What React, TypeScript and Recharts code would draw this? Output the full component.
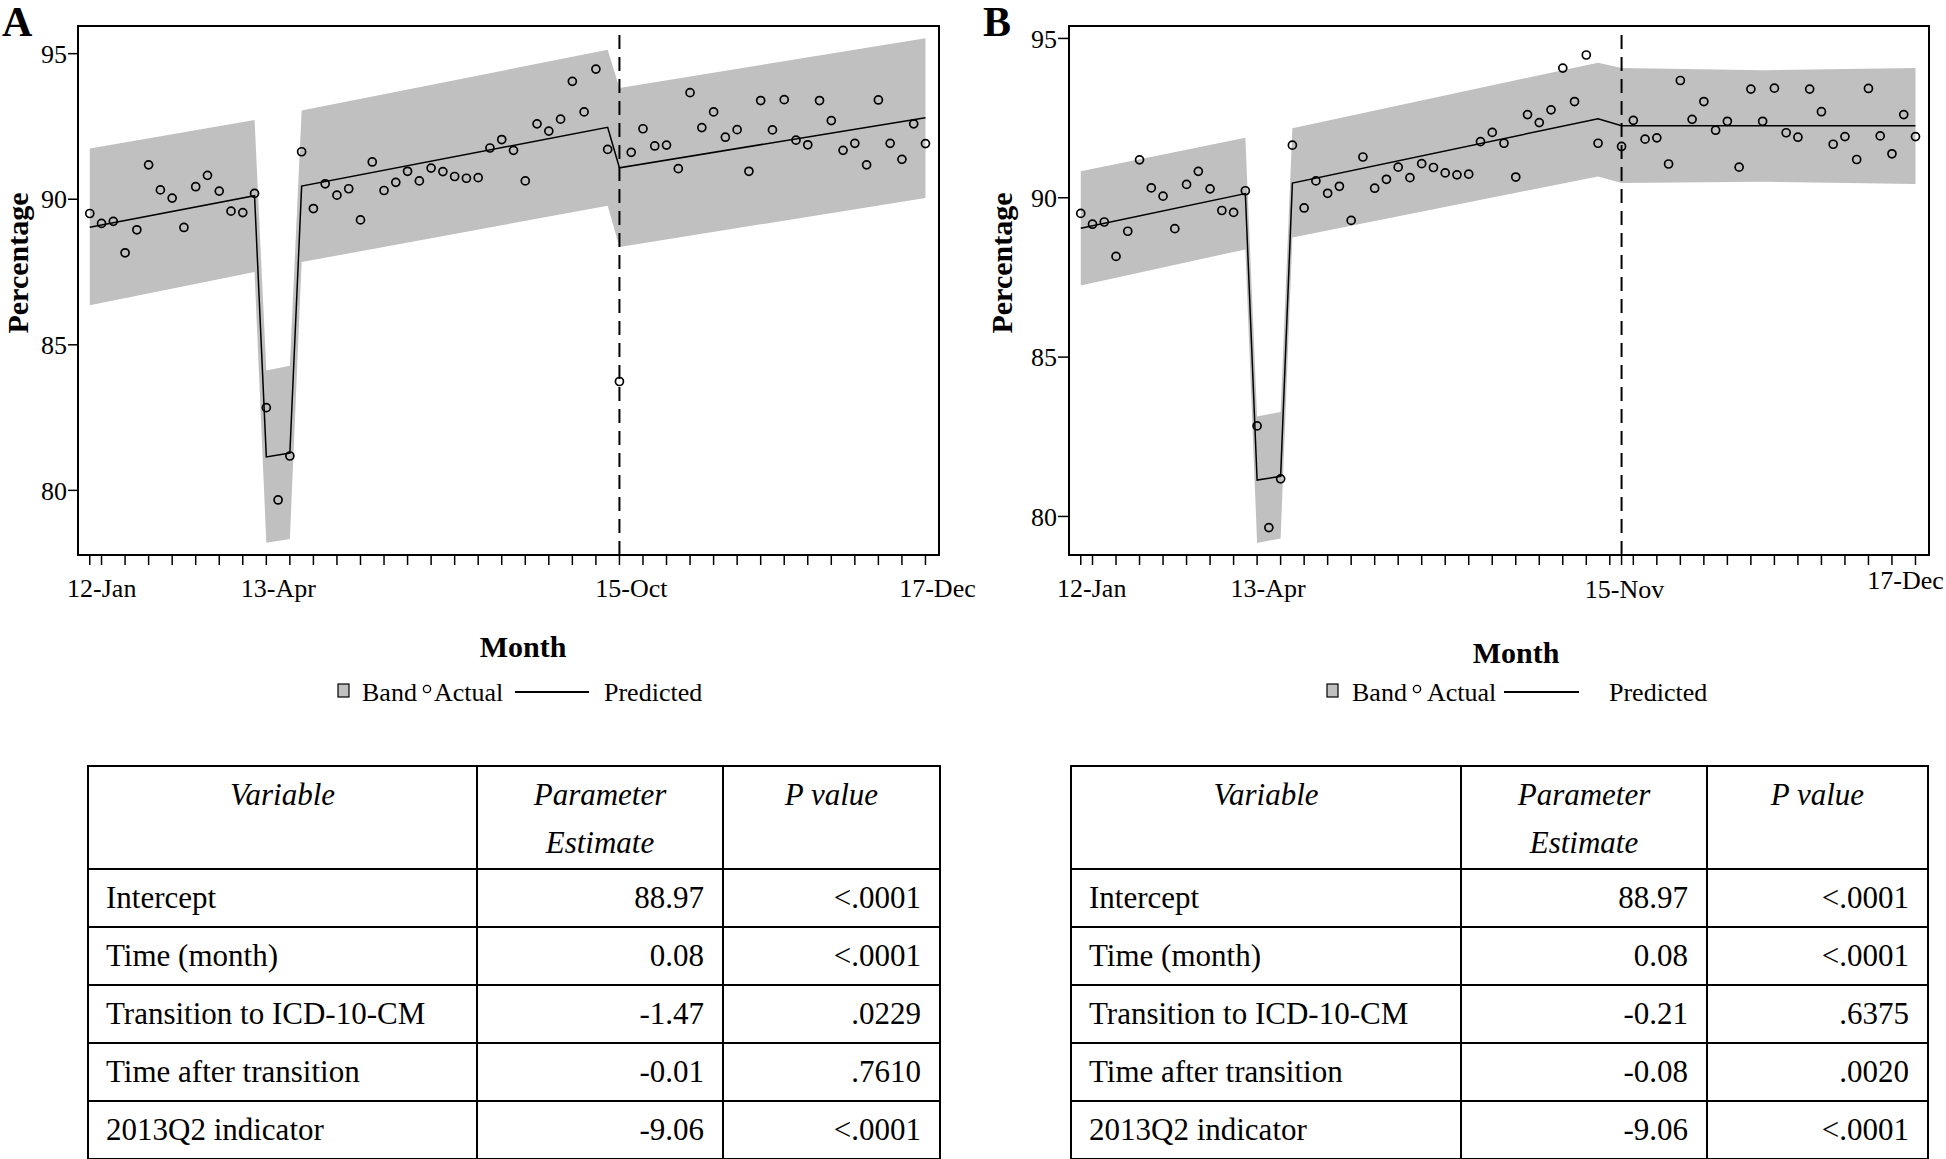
import React from 'react';
import { ComposedChart, Area, Line, Scatter, XAxis, YAxis, ReferenceLine, ReferenceArea } from 'recharts';

const FONT = '"Liberation Serif", "Times New Roman", Times, serif';

// ---------- DATA ----------
// Monthly index 0 = Jan 2012 ... 71 = Dec 2017
const actualA = [
  89.51, 89.17, 89.24, 88.16, 88.95, 91.18, 90.32, 90.04, 89.03, 90.43,
  90.82, 90.28, 89.59, 89.54, 90.20, 82.84, 79.67, 81.18, 91.63, 89.68,
  90.53, 90.14, 90.36, 89.29, 91.28, 90.30, 90.58, 90.96, 90.63, 91.07,
  90.95, 90.78, 90.72, 90.74, 91.76, 92.05, 91.68, 90.63, 92.59, 92.34,
  92.75, 94.05, 93.00, 94.47, 91.71, 83.74, 91.61, 92.42, 91.83, 91.86,
  91.05, 93.66, 92.46, 93.00, 92.13, 92.39, 90.96, 93.39, 92.38, 93.42,
  92.03, 91.87, 93.39, 92.70, 91.68, 91.92, 91.18, 93.41, 91.92, 91.37,
  92.59, 91.91,
];
const actualB = [
  89.51, 89.17, 89.24, 88.16, 88.95, 91.19, 90.31, 90.05, 89.03, 90.42,
  90.83, 90.28, 89.60, 89.54, 90.22, 82.84, 79.65, 81.18, 91.65, 89.68,
  90.53, 90.14, 90.36, 89.29, 91.28, 90.30, 90.58, 90.96, 90.63, 91.07,
  90.95, 90.78, 90.72, 90.74, 91.76, 92.05, 91.71, 90.65, 92.61, 92.36,
  92.76, 94.07, 93.02, 94.48, 91.71, null, 91.61, 92.43, 91.84, 91.88,
  91.06, 93.68, 92.46, 93.02, 92.12, 92.40, 90.96, 93.41, 92.40, 93.44,
  92.04, 91.90, 93.41, 92.70, 91.68, 91.92, 91.20, 93.43, 91.94, 91.38,
  92.61, 91.92,
];

const predIdxA = [0, 14, 15, 17, 18, 44, 45, 71];
const predValA = [89.04, 90.12, 81.15, 81.28, 90.45, 92.47, 91.08, 92.8];
const bandIdxA = [0, 14, 15, 17, 18, 44, 45, 71];
const bandLowA = [86.36, 87.5, 78.2, 78.33, 87.84, 89.78, 88.36, 90.04];
const bandHighA = [91.74, 92.72, 84.12, 84.28, 93.05, 95.13, 93.82, 95.53];

const predIdxB = [0, 14, 15, 17, 18, 44, 46, 71];
const predValB = [89.04, 90.13, 81.14, 81.26, 90.46, 92.48, 92.26, 92.26];
const bandIdxB = [0, 14, 15, 17, 18, 44, 46, 58, 71];
const bandLowB = [87.25, 88.38, 79.17, 79.31, 88.75, 90.67, 90.46, 90.5, 90.43];
const bandHighB = [90.83, 91.88, 83.14, 83.28, 92.18, 94.24, 94.07, 94.0, 94.07];

const xTicksA = [0, 1, 3, 5, 7, 9, 11, 13, 15, 17, 19, 21, 23, 25, 27, 29, 31, 33, 35, 37, 39, 41, 43, 45, 47, 49, 51, 53, 55, 57, 59, 61, 63, 65, 67, 69, 71];
const xTicksB = [0, 1, 3, 5, 7, 9, 11, 13, 15, 17, 19, 21, 23, 25, 27, 29, 31, 33, 35, 37, 39, 41, 43, 45, 46, 47, 49, 51, 53, 55, 57, 59, 61, 63, 65, 67, 69, 71];
const yTicks = [80, 85, 90, 95];

const tickLabelIdxA = [0, 15, 45, 71];
const tickLabelTextA = ['12-Jan', '13-Apr', '15-Oct', '17-Dec'];
const tickLabelIdxB = [0, 15, 46, 71];
const tickLabelTextB = ['12-Jan', '13-Apr', '15-Nov', '17-Dec'];

const tableVariables = ['Intercept', 'Time (month)', 'Transition to ICD-10-CM', 'Time after transition', '2013Q2 indicator'];
const estimatesA = ['88.97', '0.08', '-1.47', '-0.01', '-9.06'];
const pValuesA = ['<.0001', '<.0001', '.0229', '.7610', '<.0001'];
const estimatesB = ['88.97', '0.08', '-0.21', '-0.08', '-9.06'];
const pValuesB = ['<.0001', '<.0001', '.6375', '.0020', '<.0001'];

// ---------- STYLE ----------
const X_DOMAIN: [number, number] = [-1, 72.15];
const BAND_COLOR = '#c0c0c0';

type PanelProps = {
  left: number;
  width: number;
  marginLeft: number;
  marginRight: number;
  yDomain: [number, number];
  yTickSize: number;
  yTickMargin: number;
  xTicks: number[];
  actual: (number | null)[];
  predIdx: number[];
  predVal: number[];
  bandIdx: number[];
  bandLow: number[];
  bandHigh: number[];
  dashX: number;
  labelIdx: number[];
  labelText: string[];
  labelDx: number[];
  labelDy: number[];
};

function Panel(p: PanelProps) {
  const scatterData = p.actual
    .map((v, i) => ({ t: i, v }))
    .filter((d) => d.v !== null && d.v !== undefined);
  const lineData = p.predIdx.map((t, i) => ({ t, v: p.predVal[i] }));
  const bandData = p.bandIdx.map((t, i) => ({ t, band: [p.bandLow[i], p.bandHigh[i]] }));

  const renderXTick = (props: any) => {
    const { x, y, payload } = props;
    const k = p.labelIdx.indexOf(payload.value);
    if (k < 0) return <g />;
    return (
      <text x={x + p.labelDx[k]} y={y + p.labelDy[k]} textAnchor="middle" fontFamily={FONT} fontSize={26} fill="#000">
        {p.labelText[k]}
      </text>
    );
  };

  return (
    <div style={{ position: 'absolute', left: p.left, top: 0 }}>
      <ComposedChart
        width={p.width}
        height={620}
        margin={{ top: 26, right: p.marginRight, bottom: 15, left: p.marginLeft }}
        style={{ overflow: 'visible' }}
      >
        <XAxis
          type="number"
          dataKey="t"
          domain={X_DOMAIN}
          ticks={p.xTicks}
          interval={0}
          allowDataOverflow
          height={50}
          tickSize={10}
          tickMargin={0}
          tick={renderXTick}
          tickLine={{ stroke: '#000', strokeWidth: 1.5 }}
          axisLine={{ stroke: '#000', strokeWidth: 2 }}
        />
        <YAxis
          type="number"
          domain={p.yDomain}
          ticks={yTicks}
          interval={0}
          allowDataOverflow
          width={60}
          tickSize={p.yTickSize}
          tickMargin={p.yTickMargin}
          tick={{ fontFamily: FONT, fontSize: 26, fill: '#000' }}
          tickLine={{ stroke: '#000', strokeWidth: 1.5 }}
          axisLine={{ stroke: '#000', strokeWidth: 2 }}
        />
        <Area
          data={bandData}
          dataKey="band"
          type="linear"
          fill={BAND_COLOR}
          fillOpacity={1}
          stroke="none"
          activeDot={false}
          isAnimationActive={false}
        />
        <ReferenceLine x={p.dashX} stroke="#000" strokeWidth={2} strokeDasharray="14 8" ifOverflow="visible" />
        <Line
          data={lineData}
          dataKey="v"
          type="linear"
          stroke="#000"
          strokeWidth={1.5}
          dot={false}
          activeDot={false}
          isAnimationActive={false}
        />
        <Scatter
          data={scatterData}
          dataKey="v"
          isAnimationActive={false}
          shape={(s: any) => <circle cx={s.cx} cy={s.cy} r={4} fill="none" stroke="#000" strokeWidth={1.7} />}
        />
        <ReferenceArea
          x1={X_DOMAIN[0]}
          x2={X_DOMAIN[1]}
          y1={p.yDomain[0]}
          y2={p.yDomain[1]}
          fill="none"
          fillOpacity={0}
          stroke="#000"
          strokeWidth={2}
          ifOverflow="visible"
        />
      </ComposedChart>
    </div>
  );
}

type TableProps = {
  left: number;
  top: number;
  colWidths: number[];
  estimates: string[];
  pvalues: string[];
};

function ParamTable(t: TableProps) {
  const total = t.colWidths.reduce((a, b) => a + b, 0);
  const cell: React.CSSProperties = {
    border: '2px solid #000',
    fontFamily: FONT,
    fontSize: 31,
    color: '#000',
    boxSizing: 'border-box',
  };
  const head: React.CSSProperties = {
    ...cell,
    fontStyle: 'italic',
    fontWeight: 'normal',
    textAlign: 'center',
    verticalAlign: 'top',
    height: 103,
    padding: '4px 8px 0 8px',
    lineHeight: '48px',
  };
  const body: React.CSSProperties = {
    ...cell,
    height: 58,
    padding: '0 18px',
    verticalAlign: 'middle',
    lineHeight: '34px',
  };
  return (
    <table
      style={{
        position: 'absolute',
        left: t.left,
        top: t.top,
        width: total,
        borderCollapse: 'collapse',
        tableLayout: 'fixed',
        background: '#fff',
      }}
    >
      <colgroup>
        {t.colWidths.map((w, i) => (
          <col key={i} style={{ width: w }} />
        ))}
      </colgroup>
      <thead>
        <tr>
          <th style={head}>Variable</th>
          <th style={head}>
            Parameter
            <br />
            Estimate
          </th>
          <th style={head}>P value</th>
        </tr>
      </thead>
      <tbody>
        {tableVariables.map((v, i) => (
          <tr key={v}>
            <td style={{ ...body, textAlign: 'left', paddingLeft: 17 }}>{v}</td>
            <td style={{ ...body, textAlign: 'right' }}>{t.estimates[i]}</td>
            <td style={{ ...body, textAlign: 'right' }}>{t.pvalues[i]}</td>
          </tr>
        ))}
      </tbody>
    </table>
  );
}

function LegendRow({ x }: { x: number[] }) {
  // x: [rect, Band text, circle, Actual text, lineStart, lineEnd, Predicted text]
  const base = 701;
  return (
    <g fontFamily={FONT} fontSize={26} fill="#000">
      <rect x={x[0]} y={684} width={11} height={13} fill={BAND_COLOR} stroke="#000" strokeWidth={1.2} />
      <text x={x[1]} y={base}>Band</text>
      <circle cx={x[2]} cy={689} r={3.6} fill="none" stroke="#000" strokeWidth={1.4} />
      <text x={x[3]} y={base}>Actual</text>
      <line x1={x[4]} x2={x[5]} y1={692} y2={692} stroke="#000" strokeWidth={1.8} />
      <text x={x[6]} y={base}>Predicted</text>
    </g>
  );
}

export default function App() {
  return (
    <div style={{ position: 'absolute', left: 0, top: 0, width: 1946, height: 1159, background: '#fff', overflow: 'hidden' }}>
      <Panel
        left={0}
        width={980}
        marginLeft={18}
        marginRight={41}
        yDomain={[77.78, 95.95]}
        yTickSize={10}
        yTickMargin={1}
        xTicks={xTicksA}
        actual={actualA}
        predIdx={predIdxA}
        predVal={predValA}
        bandIdx={bandIdxA}
        bandLow={bandLowA}
        bandHigh={bandHighA}
        dashX={45}
        labelIdx={tickLabelIdxA}
        labelText={tickLabelTextA}
        labelDx={[12, 12, 12, 12]}
        labelDy={[32, 32, 32, 32]}
      />
      <Panel
        left={1000}
        width={946}
        marginLeft={9}
        marginRight={17}
        yDomain={[78.79, 95.39]}
        yTickSize={11}
        yTickMargin={1}
        xTicks={xTicksB}
        actual={actualB}
        predIdx={predIdxB}
        predVal={predValB}
        bandIdx={bandIdxB}
        bandLow={bandLowB}
        bandHigh={bandHighB}
        dashX={46}
        labelIdx={tickLabelIdxB}
        labelText={tickLabelTextB}
        labelDx={[11, 11, 3, -10]}
        labelDy={[32, 32, 33, 24]}
      />
      <svg width={1946} height={1159} style={{ position: 'absolute', left: 0, top: 0, pointerEvents: 'none' }}>
        <text x={2} y={36} fontFamily={FONT} fontSize={42} fontWeight="bold" fill="#000">A</text>
        <text x={983} y={36} fontFamily={FONT} fontSize={42} fontWeight="bold" fill="#000">B</text>
        <text
          x={28}
          y={263}
          transform="rotate(-90 28 263)"
          textAnchor="middle"
          fontFamily={FONT}
          fontSize={30}
          fontWeight="bold"
          fill="#000"
        >
          Percentage
        </text>
        <text
          x={1012}
          y={263}
          transform="rotate(-90 1012 263)"
          textAnchor="middle"
          fontFamily={FONT}
          fontSize={30}
          fontWeight="bold"
          fill="#000"
        >
          Percentage
        </text>
        <text x={523} y={657} textAnchor="middle" fontFamily={FONT} fontSize={30} fontWeight="bold" fill="#000">Month</text>
        <text x={1516} y={663} textAnchor="middle" fontFamily={FONT} fontSize={30} fontWeight="bold" fill="#000">Month</text>
        <LegendRow x={[338, 362, 427, 434, 515, 589, 604]} />
        <LegendRow x={[1327, 1352, 1417, 1427, 1504, 1579, 1609]} />
      </svg>
      <ParamTable left={87} top={765} colWidths={[389, 246, 217]} estimates={estimatesA} pvalues={pValuesA} />
      <ParamTable left={1070} top={765} colWidths={[390, 246, 221]} estimates={estimatesB} pvalues={pValuesB} />
    </div>
  );
}
